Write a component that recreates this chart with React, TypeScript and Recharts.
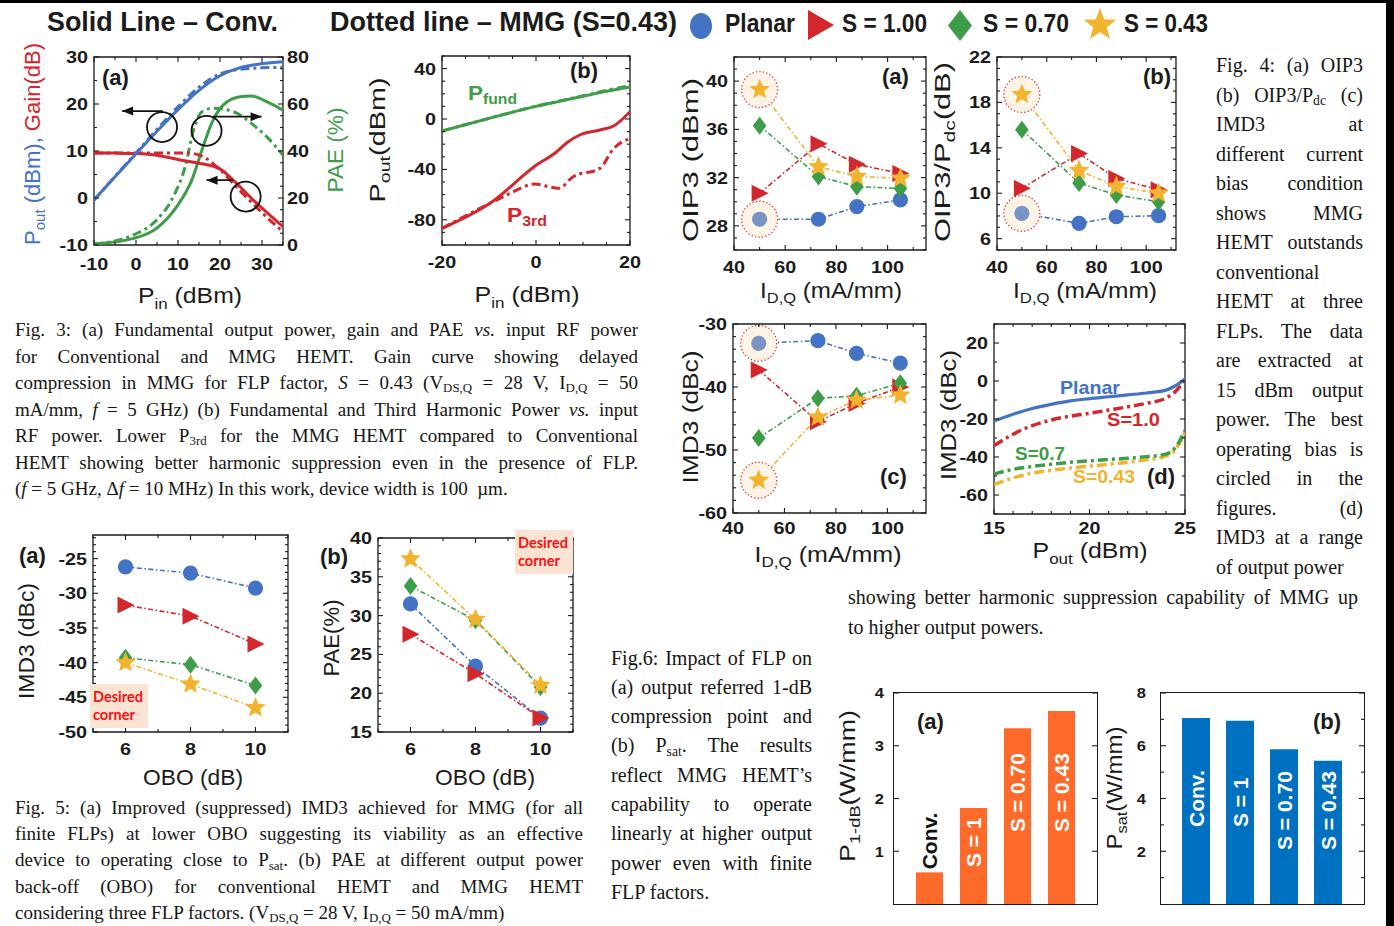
import React from 'react';
import { LineChart, Line, XAxis, YAxis, ReferenceArea, ReferenceDot, ReferenceLine, BarChart, Bar, LabelList } from 'recharts';

// ---------------- fonts / colours ----------------
const SANS = "'Liberation Sans', Arial, Helvetica, sans-serif";
const SERIF = "'Liberation Serif', 'Times New Roman', Times, serif";
const INK = '#1b1b1b';
const BLUE = '#4472C4';
const BLUE_HI = '#7893C4';
const RED = '#D3262D';
const GREEN = '#3F9C49';
const GOLD = '#F2B42F';
const ORANGE = '#FF6A2A';
const BARBLUE = '#0070C0';

// ---------------- data : Fig.3(a) ----------------
const f3aPoutConv = [{ x: -10, y: -0.4 }, { x: -5, y: 4.5 }, { x: 0, y: 9.4 }, { x: 5, y: 14.2 }, { x: 10, y: 18.8 }, { x: 15, y: 22.9 }, { x: 20, y: 26.0 }, { x: 25, y: 27.8 }, { x: 30, y: 28.6 }, { x: 35, y: 29.0 }];
const f3aPoutMMG = [{ x: -10, y: -0.4 }, { x: -5, y: 4.6 }, { x: 0, y: 9.6 }, { x: 5, y: 14.6 }, { x: 10, y: 19.4 }, { x: 15, y: 23.6 }, { x: 20, y: 26.4 }, { x: 25, y: 27.4 }, { x: 30, y: 27.7 }, { x: 35, y: 27.8 }];
const f3aGainConv = [{ x: -10, y: 9.6 }, { x: -5, y: 9.55 }, { x: 0, y: 9.45 }, { x: 5, y: 9.1 }, { x: 10, y: 8.2 }, { x: 15, y: 7.4 }, { x: 20, y: 6.2 }, { x: 23, y: 3.9 }, { x: 28, y: -0.5 }, { x: 35, y: -6.1 }];
const f3aGainMMG = [{ x: -10, y: 9.6 }, { x: 0, y: 9.6 }, { x: 5, y: 9.6 }, { x: 12, y: 9.6 }, { x: 16, y: 8.8 }, { x: 20, y: 6.0 }, { x: 24.6, y: 1.7 }, { x: 30.2, y: -3.3 }, { x: 35, y: -7.2 }];
const f3aPaeConv = [{ x: -10, y: 0.4 }, { x: -0.6, y: 2.8 }, { x: 4.9, y: 7.1 }, { x: 9.7, y: 16.3 }, { x: 13.3, y: 27.7 }, { x: 15.7, y: 40.4 }, { x: 18, y: 51.8 }, { x: 20.8, y: 59.6 }, { x: 24.8, y: 63.1 }, { x: 27.5, y: 63.4 }, { x: 31.1, y: 61 }, { x: 35, y: 57.4 }];
const f3aPaeMMG = [{ x: -10, y: 0.4 }, { x: -0.6, y: 4.3 }, { x: 4.9, y: 10.6 }, { x: 8.9, y: 20.6 }, { x: 11.7, y: 33.3 }, { x: 13.7, y: 48.9 }, { x: 15.7, y: 56.7 }, { x: 18.5, y: 58.2 }, { x: 23.2, y: 56.7 }, { x: 28, y: 51 }, { x: 31.1, y: 46.1 }, { x: 35, y: 38.3 }];
const f3aCircles = [[6.2, 15.1], [16.8, 14.3], [26.1, 0.3]];
const f3aArrows = [[6.4, -3.3, 18.5], [18.3, 29.9, 17.3], [23.1, 16.8, 3.8]];

// ---------------- data : Fig.3(b) ----------------
const f3bFundConv = [{ x: -20, y: -9.5 }, { x: -10, y: 0.5 }, { x: 0, y: 10 }, { x: 5, y: 14 }, { x: 10, y: 18 }, { x: 15, y: 22 }, { x: 20, y: 25.5 }];
const f3bFundMMG = [{ x: -20, y: -9.5 }, { x: -10, y: 0.5 }, { x: 0, y: 10.2 }, { x: 10, y: 18.4 }, { x: 15, y: 22.7 }, { x: 20, y: 26.5 }];
const f3b3rdConv = [{ x: -20, y: -86.8 }, { x: -9.8, y: -66.9 }, { x: 0.1, y: -36.5 }, { x: 4.4, y: -26 }, { x: 6.5, y: -19 }, { x: 9.4, y: -12.5 }, { x: 13.6, y: -8.7 }, { x: 16.5, y: -5.6 }, { x: 20, y: 5.8 }];
const f3b3rdMMG = [{ x: -20, y: -86.8 }, { x: -9.8, y: -66.9 }, { x: -5.5, y: -59 }, { x: -0.2, y: -51.6 }, { x: 2.5, y: -53.5 }, { x: 4.8, y: -55 }, { x: 7.9, y: -45.8 }, { x: 13.6, y: -39.2 }, { x: 16.4, y: -24 }, { x: 20, y: -15.3 }];

// ---------------- data : Fig.4 ----------------
const idq = [50, 73, 88, 105];
const oip3Planar = [28.55, 28.55, 29.6, 30.15];
const oip3S100 = [30.7, 34.8, 33.1, 32.35];
const oip3S070 = [36.3, 32.1, 31.25, 31.1];
const oip3S043 = [39.3, 32.9, 32.1, 31.95];
const ratioPlanar = [8.23, 7.35, 7.93, 8.02];
const ratioS100 = [10.43, 13.5, 11.3, 10.3];
const ratioS070 = [15.6, 10.9, 9.85, 9.25];
const ratioS043 = [18.7, 12.0, 10.6, 10.0];
const imdPlanar = [-33.06, -32.65, -34.65, -36.2];
const imdS100 = [-37.3, -45.5, -42.6, -40.0];
const imdS070 = [-48.1, -41.8, -41.4, -39.4];
const imdS043 = [-54.8, -44.8, -42.1, -41.3];
const f4dPout = [15, 16, 17, 18, 19, 20, 21, 22, 23, 24, 24.5, 25];
const f4dPlanar = [-21, -17.5, -14.5, -12.3, -10.5, -9.3, -8.3, -7.3, -6.3, -4.8, -2.5, 1];
const f4dS100 = [-34, -28, -23.5, -20.5, -18.5, -17, -15.3, -13.6, -11.7, -9, -5.5, 0.5];
const f4dS070 = [-49, -46.5, -45, -43.8, -42.8, -42, -41.3, -40.7, -39.8, -38.5, -35, -26];
const f4dS043 = [-54.5, -51, -48.5, -47, -45.8, -44.8, -43.8, -42.8, -41.5, -39.5, -36, -27];

// ---------------- data : Fig.5 ----------------
const obo = [6, 8, 10];
const imdOboPlanar = [-26.2, -27.1, -29.25];
const imdOboS100 = [-31.7, -33.3, -37.3];
const imdOboS070 = [-39.3, -40.3, -43.3];
const imdOboS043 = [-40.0, -43.1, -46.5];
const paePlanar = [31.5, 23.5, 16.8];
const paeS100 = [27.6, 22.5, 16.8];
const paeS070 = [33.8, 29.4, 20.8];
const paeS043 = [37.3, 29.5, 21.0];

// ---------------- data : Fig.6 ----------------
const fig6Cats = ['Conv.', 'S = 1', 'S = 0.70', 'S = 0.43'];
const p1dB = [0.6, 1.82, 3.33, 3.66];
const psat = [7.05, 6.95, 5.87, 5.43];

// ---------------- helpers ----------------
const rows = (xs: number[], a: number[], b: number[], c: number[], d: number[]) =>
  xs.map((x, i) => ({ x, planar: a[i], s100: b[i], s070: c[i], s043: d[i] }));
const rng = (a: number, b: number, s: number) => {
  const r: number[] = [];
  for (let v = a; v <= b + 1e-9; v += s) r.push(Math.round(v * 1000) / 1000);
  return r;
};

const PL = 50, PR = 36, PT = 10, PB = 36;

const F3A = { x0: 94, y0: 57, x1: 283, y1: 245 };
const F3B = { x0: 442, y0: 56, x1: 630, y1: 245 };
const F4A = { x0: 734, y0: 57, x1: 926, y1: 250 };
const F4B = { x0: 997, y0: 57, x1: 1176, y1: 250 };
const F4C = { x0: 733, y0: 324, x1: 926, y1: 513 };
const F4D = { x0: 994, y0: 324, x1: 1185, y1: 514 };
const F5A = { x0: 93, y0: 535, x1: 288, y1: 732 };
const F5B = { x0: 378, y0: 538, x1: 573, y1: 732 };
const F6A = { x0: 894, y0: 693, x1: 1097, y1: 904 };
const F6B = { x0: 1161, y0: 693, x1: 1364, y1: 904 };

function mkTick(c: any) {
  const fs = c.fs ?? 16.5, sx = c.sx ?? 1.2, len = c.len ?? 5, mlen = c.mlen ?? 3, off = c.off ?? 6, mirror = c.mirror ?? 0;
  return (p: any) => {
    const x = Number(p.x), y = Number(p.y);
    const v = Number(p.payload && p.payload.value);
    const major = c.majors.some((m: number) => Math.abs(m - v) < 1e-6);
    const L = major ? len : mlen;
    const ln = { stroke: INK, strokeWidth: 1.1 };
    const label = major ? String(v) : null;
    const tp = { fontFamily: SANS, fontWeight: 'bold', fontSize: fs, fill: INK } as any;
    if (c.side === 'left') {
      return (
        <g>
          <line x1={x} y1={y} x2={x + L} y2={y} {...ln} />
          {mirror ? <line x1={x + mirror - L} y1={y} x2={x + mirror} y2={y} {...ln} /> : null}
          {label != null ? <text transform={`translate(${x - off},${y + fs * 0.36}) scale(${sx},1)`} textAnchor="end" {...tp}>{label}</text> : null}
        </g>
      );
    }
    if (c.side === 'right') {
      return (
        <g>
          <line x1={x - L} y1={y} x2={x} y2={y} {...ln} />
          {label != null ? <text transform={`translate(${x + off},${y + fs * 0.36}) scale(${sx},1)`} textAnchor="start" {...tp}>{label}</text> : null}
        </g>
      );
    }
    return (
      <g>
        <line x1={x} y1={y - L} x2={x} y2={y} {...ln} />
        {mirror ? <line x1={x} y1={y - mirror} x2={x} y2={y - mirror + L} {...ln} /> : null}
        {label != null ? <text transform={`translate(${x},${y + off}) scale(${sx},1)`} textAnchor="middle" {...tp}>{label}</text> : null}
      </g>
    );
  };
}

function starPath(cx: number, cy: number, R: number, ratio = 0.45) {
  let d = '';
  for (let i = 0; i < 10; i++) {
    const a = (-90 + i * 36) * Math.PI / 180;
    const r = i % 2 === 0 ? R : R * ratio;
    d += (i === 0 ? 'M' : 'L') + (cx + r * Math.cos(a)).toFixed(2) + ',' + (cy + r * Math.sin(a)).toFixed(2);
  }
  return d + 'Z';
}

function Marker({ kind, cx, cy, color, s = 1 }: any) {
  if (cx == null || cy == null || isNaN(cx) || isNaN(cy)) return <g />;
  if (kind === 'circle') return <circle cx={cx} cy={cy} r={7.6 * s} fill={color} />;
  if (kind === 'tri') return <path d={`M${cx - 8 * s},${cy - 8.5 * s}L${cx + 9 * s},${cy}L${cx - 8 * s},${cy + 8.5 * s}Z`} fill={color} />;
  if (kind === 'diamond') return <path d={`M${cx},${cy - 9 * s}L${cx + 6.8 * s},${cy}L${cx},${cy + 9 * s}L${cx - 6.8 * s},${cy}Z`} fill={color} />;
  return <path d={starPath(cx, cy, 10.8 * s)} fill={color} />;
}

const SERIES = [
  { key: 'planar', kind: 'circle', color: BLUE },
  { key: 's100', kind: 'tri', color: RED },
  { key: 's070', kind: 'diamond', color: GREEN },
  { key: 's043', kind: 'star', color: GOLD },
];

const pos = (f: any) => ({ position: 'absolute' as const, left: f.x0 - PL, top: f.y0 - PT });

// ---------------- Fig 3(a) ----------------
function Fig3a() {
  const f = F3A; const pw = f.x1 - f.x0, ph = f.y1 - f.y0;
  const conv = { type: 'monotone' as const, dot: false, strokeWidth: 3, isAnimationActive: false, dataKey: 'y' };
  const mmg = { ...conv, strokeDasharray: '9 4 3 4' };
  return (
    <div style={pos(f)}>
      <LineChart width={pw + PL + PR} height={ph + PT + PB} margin={{ top: PT, right: 0, bottom: 0, left: 0 }}>
        <XAxis type="number" dataKey="x" domain={[-10, 35]} ticks={rng(-10, 35, 5)} interval={0} allowDataOverflow tickSize={0} tickMargin={0} axisLine={false} tickLine={false} height={PB} tick={mkTick({ side: 'bottom', majors: [-10, 0, 10, 20, 30], mirror: ph, off: 25 })} />
        <YAxis yAxisId="L" type="number" domain={[-10, 30]} ticks={rng(-10, 30, 5)} interval={0} allowDataOverflow tickSize={0} tickMargin={0} axisLine={false} tickLine={false} width={PL} tick={mkTick({ side: 'left', majors: [-10, 0, 10, 20, 30] })} />
        <YAxis yAxisId="R" orientation="right" type="number" domain={[0, 80]} ticks={rng(0, 80, 5)} interval={0} allowDataOverflow tickSize={0} tickMargin={0} axisLine={false} tickLine={false} width={PR} tick={mkTick({ side: 'right', majors: [0, 20, 40, 60, 80], off: 4 })} />
        <ReferenceArea yAxisId="L" x1={-10} x2={35} y1={-10} y2={30} fill="none" stroke={INK} strokeWidth={1.3} ifOverflow="visible" />
        <Line yAxisId="R" data={f3aPaeConv} stroke={GREEN} {...conv} />
        <Line yAxisId="R" data={f3aPaeMMG} stroke={GREEN} {...mmg} />
        <Line yAxisId="L" data={f3aGainConv} stroke={RED} {...conv} />
        <Line yAxisId="L" data={f3aGainMMG} stroke={RED} {...mmg} />
        <Line yAxisId="L" data={f3aPoutConv} stroke={BLUE} {...conv} />
        <Line yAxisId="L" data={f3aPoutMMG} stroke={BLUE} {...mmg} />
        {f3aCircles.map((c, i) => (
          <ReferenceDot key={'c' + i} yAxisId="L" x={c[0]} y={c[1]} r={15} fill="none" stroke="#111" strokeWidth={1.8} ifOverflow="visible" />
        ))}
        {f3aArrows.map((a, i) => (
          <ReferenceLine key={'a' + i} yAxisId="L" segment={[{ x: a[0], y: a[2] }, { x: a[1], y: a[2] }]} stroke="#111" strokeWidth={1.8} ifOverflow="visible" />
        ))}
        {f3aArrows.map((a, i) => (
          <ReferenceDot key={'h' + i} yAxisId="L" x={a[1]} y={a[2]} r={5} ifOverflow="visible"
            shape={(p: any) => {
              const dir = a[1] > a[0] ? 1 : -1;
              const cx = Number(p.cx), cy = Number(p.cy);
              return <path d={`M${cx},${cy}L${cx - dir * 11},${cy - 4.5}L${cx - dir * 11},${cy + 4.5}Z`} fill="#111" />;
            }} />
        ))}
      </LineChart>
    </div>
  );
}

// ---------------- Fig 3(b) ----------------
function Fig3b() {
  const f = F3B; const pw = f.x1 - f.x0, ph = f.y1 - f.y0;
  const conv = { type: 'monotone' as const, dot: false, strokeWidth: 3, isAnimationActive: false, dataKey: 'y' };
  const mmg = { ...conv, strokeDasharray: '9 4 3 4' };
  return (
    <div style={pos(f)}>
      <LineChart width={pw + PL + PR} height={ph + PT + PB} margin={{ top: PT, right: PR, bottom: 0, left: 0 }}>
        <XAxis type="number" dataKey="x" domain={[-20, 20]} ticks={rng(-20, 20, 5)} interval={0} allowDataOverflow tickSize={0} tickMargin={0} axisLine={false} tickLine={false} height={PB} tick={mkTick({ side: 'bottom', majors: [-20, 0, 20], mirror: ph, off: 23 })} />
        <YAxis type="number" domain={[-100, 50]} ticks={rng(-100, 50, 10)} interval={0} allowDataOverflow tickSize={0} tickMargin={0} axisLine={false} tickLine={false} width={PL} tick={mkTick({ side: 'left', majors: [-80, -40, 0, 40], mirror: pw })} />
        <ReferenceArea x1={-20} x2={20} y1={-100} y2={50} fill="none" stroke={INK} strokeWidth={1.3} ifOverflow="visible" />
        <Line data={f3b3rdMMG} stroke={RED} {...mmg} />
        <Line data={f3b3rdConv} stroke={RED} {...conv} />
        <Line data={f3bFundConv} stroke={GREEN} {...conv} />
        <Line data={f3bFundMMG} stroke={GREEN} {...mmg} />
      </LineChart>
    </div>
  );
}

// ---------------- scatter-line panels (Fig 4 a-c, Fig 5) ----------------
function ScatterPanel({ f, xd, xt, xm, yd, yt, ym, data, xoff, hi }: any) {
  const pw = f.x1 - f.x0, ph = f.y1 - f.y0;
  return (
    <div style={pos(f)}>
      <LineChart width={pw + PL + PR} height={ph + PT + PB} margin={{ top: PT, right: PR, bottom: 0, left: 0 }} data={data}>
        <XAxis type="number" dataKey="x" domain={xd} ticks={xt} interval={0} allowDataOverflow tickSize={0} tickMargin={0} axisLine={false} tickLine={false} height={PB} tick={mkTick({ side: 'bottom', majors: xm, mirror: ph, off: xoff })} />
        <YAxis type="number" domain={yd} ticks={yt} interval={0} allowDataOverflow tickSize={0} tickMargin={0} axisLine={false} tickLine={false} width={PL} tick={mkTick({ side: 'left', majors: ym, mirror: pw })} />
        <ReferenceArea x1={xd[0]} x2={xd[1]} y1={yd[0]} y2={yd[1]} fill="none" stroke={INK} strokeWidth={1.3} ifOverflow="visible" />
        {hi.map((h: number[], i: number) => (
          <ReferenceDot key={'hi' + i} x={h[0]} y={h[1]} r={18} fill="#FDF3E6" stroke="#E8322F" strokeWidth={1.3} strokeDasharray="1.3 2.2" ifOverflow="visible" />
        ))}
        {SERIES.map((s) => (
          <Line key={s.key} dataKey={s.key} type="linear" stroke={s.color} strokeWidth={1.6} strokeDasharray="5 2.5 1.5 2.5" isAnimationActive={false} activeDot={false}
            dot={(p: any) => <Marker key={`${s.key}-${p.index}`} kind={s.kind} cx={p.cx} cy={p.cy} color={s.key === 'planar' && hi.length && p.index === 0 ? BLUE_HI : s.color} />} />
        ))}
      </LineChart>
    </div>
  );
}

// ---------------- Fig 4(d) ----------------
function Fig4d() {
  const f = F4D; const pw = f.x1 - f.x0, ph = f.y1 - f.y0;
  const data = rows(f4dPout, f4dPlanar, f4dS100, f4dS070, f4dS043);
  const dash = '10 4 3 4';
  return (
    <div style={pos(f)}>
      <LineChart width={pw + PL + PR} height={ph + PT + PB} margin={{ top: PT, right: PR, bottom: 0, left: 0 }} data={data}>
        <XAxis type="number" dataKey="x" domain={[15, 25]} ticks={rng(15, 25, 1)} interval={0} allowDataOverflow tickSize={0} tickMargin={0} axisLine={false} tickLine={false} height={PB} tick={mkTick({ side: 'bottom', majors: [15, 20, 25], mirror: ph, off: 20 })} />
        <YAxis type="number" domain={[-70, 30]} ticks={rng(-70, 30, 10)} interval={0} allowDataOverflow tickSize={0} tickMargin={0} axisLine={false} tickLine={false} width={PL} tick={mkTick({ side: 'left', majors: [-60, -40, -20, 0, 20], mirror: pw })} />
        <ReferenceArea x1={15} x2={25} y1={-70} y2={30} fill="none" stroke={INK} strokeWidth={1.3} ifOverflow="visible" />
        <Line dataKey="s043" type="monotone" stroke={GOLD} strokeWidth={3.5} strokeDasharray={dash} dot={false} isAnimationActive={false} />
        <Line dataKey="s070" type="monotone" stroke={GREEN} strokeWidth={3.5} strokeDasharray={dash} dot={false} isAnimationActive={false} />
        <Line dataKey="s100" type="monotone" stroke={RED} strokeWidth={3.5} strokeDasharray={dash} dot={false} isAnimationActive={false} />
        <Line dataKey="planar" type="monotone" stroke={BLUE} strokeWidth={3.2} dot={false} isAnimationActive={false} />
      </LineChart>
    </div>
  );
}

// ---------------- bar panels (Fig 6) ----------------
const BAR_LABEL_FROM_BOTTOM_A = [0, 37, 72, 72];
const BAR_LABEL_FROM_BOTTOM_B = [77, 77, 54, 54];

function BarPanel({ f, values, color, yd, yt, ym, starts, labelColors, firstOutside, barSize, tickOff }: any) {
  const pw = f.x1 - f.x0, ph = f.y1 - f.y0;
  const data = fig6Cats.map((name, i) => ({ name, v: values[i] }));
  const content = (p: any) => {
    const i = fig6Cats.indexOf(String(p.value));
    const x = Number(p.x), y = Number(p.y), w = Number(p.width), h = Number(p.height);
    const fs = 21;
    const bx = x + w / 2 + fs * 0.36;
    const sy = firstOutside && i === 0 ? y - 3 : y + h - starts[i];
    return (
      <text key={'lb' + i} transform={`translate(${bx},${sy}) rotate(-90)`} fontFamily={SANS} fontWeight="bold" fontSize={fs} fill={labelColors[i]}>{p.value}</text>
    );
  };
  return (
    <>
      <div style={pos(f)}>
        <BarChart width={pw + PL + PR} height={ph + PT + PB} margin={{ top: PT, right: PR, bottom: 0, left: 0 }} data={data}>
          <XAxis dataKey="name" type="category" padding={{ left: 13, right: 14 }} tick={false} tickLine={false} axisLine={false} height={PB} />
          <YAxis type="number" domain={yd} ticks={yt} interval={0} allowDataOverflow tickSize={0} tickMargin={0} axisLine={false} tickLine={false} width={PL} tick={mkTick({ side: 'left', majors: ym, mirror: pw, fs: 15, sx: 1.1, off: tickOff, len: 5 })} />
          <Bar dataKey="v" fill={color} barSize={barSize} isAnimationActive={false}>
            <LabelList dataKey="name" content={content} />
          </Bar>
        </BarChart>
      </div>
      <div style={{ position: 'absolute', left: f.x0 - 0.6, top: f.y0 - 0.6, width: pw + 1.2, height: ph + 1.2, boxSizing: 'border-box', border: `1.3px solid ${INK}`, pointerEvents: 'none' }} />
    </>
  );
}

// ---------------- text helpers ----------------
function T({ x, y, fs = 22, fill = INK, w = 'normal', anchor = 'start', len, rot = false, children }: any) {
  const tr = rot ? `translate(${x},${y}) rotate(-90)` : `translate(${x},${y})`;
  return (
    <text transform={tr} fontSize={fs} fill={fill} fontWeight={w} fontFamily={SANS} textAnchor={anchor}
      textLength={len} lengthAdjust={len ? 'spacingAndGlyphs' : undefined}>{children}</text>
  );
}
const subS: any = { fontSize: '0.68em', position: 'relative', top: '0.26em', lineHeight: 0 };
const Sub = ({ children }: any) => <span style={subS}>{children}</span>;

function Caption({ left, top, width, lh, fs, lines, leftAligned }: any) {
  return (
    <div style={{ position: 'absolute', left, top, width, fontFamily: SERIF, fontSize: fs, lineHeight: lh + 'px', color: '#151515' }}>
      {lines.map((ln: any, i: number) => {
        const la = leftAligned.includes(i);
        return (
          <div key={i} style={{ height: lh, whiteSpace: 'nowrap', textAlign: la ? 'left' : 'justify', textAlignLast: la ? 'left' : 'justify' } as any}>{ln}</div>
        );
      })}
    </div>
  );
}

const cap3 = [
  <>Fig. 3: (a) Fundamental output power, gain and PAE <i>vs.</i> input RF power</>,
  <>for Conventional and MMG HEMT. Gain curve showing delayed</>,
  <>compression in MMG for FLP factor, <i>S</i> = 0.43 (V<Sub>DS,Q</Sub> = 28 V, I<Sub>D,Q</Sub> = 50</>,
  <>mA/mm, <i>f</i> = 5 GHz) (b) Fundamental and Third Harmonic Power <i>vs.</i> input</>,
  <>RF power. Lower P<Sub>3rd</Sub> for the MMG HEMT compared to Conventional</>,
  <>HEMT showing better harmonic suppression even in the presence of FLP.</>,
  <>(<i>f</i> = 5 GHz, Δ<i>f</i> = 10 MHz) In this work, device width is 100 &nbsp;µm.</>,
];
const cap5 = [
  <>Fig. 5: (a) Improved (suppressed) IMD3 achieved for MMG (for all</>,
  <>finite FLPs) at lower OBO suggesting its viability as an effective</>,
  <>device to operating close to P<Sub>sat</Sub>. (b) PAE at different output power</>,
  <>back-off (OBO) for conventional HEMT and MMG HEMT</>,
  <>considering three FLP factors. (V<Sub>DS,Q</Sub> = 28 V, I<Sub>D,Q</Sub> = 50 mA/mm)</>,
];
const cap6 = [
  <>Fig.6: Impact of FLP on</>,
  <>(a) output referred 1-dB</>,
  <>compression point and</>,
  <>(b) P<Sub>sat</Sub>. The results</>,
  <>reflect MMG HEMT’s</>,
  <>capability to operate</>,
  <>linearly at higher output</>,
  <>power even with finite</>,
  <>FLP factors.</>,
];
const cap4 = [
  <>Fig. 4: (a) OIP3</>,
  <>(b) OIP3/P<Sub>dc</Sub> (c)</>,
  <>IMD3 at</>,
  <>different current</>,
  <>bias condition</>,
  <>shows MMG</>,
  <>HEMT outstands</>,
  <>conventional</>,
  <>HEMT at three</>,
  <>FLPs. The data</>,
  <>are extracted at</>,
  <>15 dBm output</>,
  <>power. The best</>,
  <>operating bias is</>,
  <>circled in the</>,
  <>figures. (d)</>,
  <>IMD3 at a range</>,
  <>of output power</>,
];
const cap4b = [
  <>showing better harmonic suppression capability of MMG up</>,
  <>to higher output powers.</>,
];

function DesiredBox({ left, top }: any) {
  return (
    <div style={{ position: 'absolute', left, top, width: 58, height: 44, background: '#FBE3D3', color: '#FF1010', fontFamily: "Lato, 'Open Sans', sans-serif", fontWeight: 'bold', fontSize: 14.5, lineHeight: '18px', paddingTop: 4, paddingLeft: 3, boxSizing: 'border-box' }}>
      <div>Desired</div>
      <div>corner</div>
    </div>
  );
}

export default function App() {
  const hiA = [[idq[0], oip3S043[0]], [idq[0], oip3Planar[0]]];
  const hiB = [[idq[0], ratioS043[0]], [idq[0], ratioPlanar[0]]];
  const hiC = [[idq[0], imdPlanar[0]], [idq[0], imdS043[0]]];
  const sub = (t: string, d = 6, fs = 15) => [<tspan key="s" fontSize={fs} dy={d}>{t}</tspan>];
  return (
    <div style={{ position: 'absolute', left: 0, top: 0, width: 1394, height: 926, background: '#fff', overflow: 'hidden' }}>
      <Fig3a />
      <Fig3b />
      <ScatterPanel f={F4A} xd={[40, 115]} xt={rng(40, 110, 10)} xm={[40, 60, 80, 100]} yd={[26, 42]} yt={rng(26, 42, 1)} ym={[28, 32, 36, 40]} data={rows(idq, oip3Planar, oip3S100, oip3S070, oip3S043)} xoff={23} hi={hiA} />
      <ScatterPanel f={F4B} xd={[40, 112]} xt={rng(40, 110, 10)} xm={[40, 60, 80, 100]} yd={[5, 22]} yt={rng(5, 22, 1)} ym={[6, 10, 14, 18, 22]} data={rows(idq, ratioPlanar, ratioS100, ratioS070, ratioS043)} xoff={23} hi={hiB} />
      <ScatterPanel f={F4C} xd={[40, 115]} xt={rng(40, 110, 10)} xm={[40, 60, 80, 100]} yd={[-60, -30]} yt={rng(-60, -30, 2)} ym={[-60, -50, -40, -30]} data={rows(idq, imdPlanar, imdS100, imdS070, imdS043)} xoff={21} hi={hiC} />
      <Fig4d />
      <ScatterPanel f={F5A} xd={[5, 11]} xt={rng(5, 11, 1)} xm={[6, 8, 10]} yd={[-50, -21.6]} yt={rng(-50, -22, 1)} ym={[-50, -45, -40, -35, -30, -25]} data={rows(obo, imdOboPlanar, imdOboS100, imdOboS070, imdOboS043)} xoff={23} hi={[]} />
      <ScatterPanel f={F5B} xd={[5, 11]} xt={rng(5, 11, 1)} xm={[6, 8, 10]} yd={[15, 40]} yt={rng(15, 40, 1)} ym={[15, 20, 25, 30, 35, 40]} data={rows(obo, paePlanar, paeS100, paeS070, paeS043)} xoff={23} hi={[]} />
      <BarPanel f={F6A} values={p1dB} color={ORANGE} yd={[0, 4]} yt={[1, 2, 3, 4]} ym={[1, 2, 3, 4]} starts={BAR_LABEL_FROM_BOTTOM_A} labelColors={['#111', '#fff', '#fff', '#fff']} firstOutside barSize={27} tickOff={10} />
      <BarPanel f={F6B} values={psat} color={BARBLUE} yd={[0, 8]} yt={rng(1, 8, 1)} ym={[2, 4, 6, 8]} starts={BAR_LABEL_FROM_BOTTOM_B} labelColors={['#fff', '#fff', '#fff', '#fff']} firstOutside={false} barSize={28} tickOff={15} />

      <DesiredBox left={90} top={684} />
      <DesiredBox left={515} top={530} />

      <Caption left={15} top={317} width={623} lh={26.5} fs={19} lines={cap3} leftAligned={[6]} />
      <Caption left={15} top={794.5} width={568} lh={26.4} fs={19} lines={cap5} leftAligned={[4]} />
      <Caption left={611} top={643.5} width={201} lh={29.3} fs={20} lines={cap6} leftAligned={[8]} />
      <Caption left={1216} top={51.3} width={147} lh={29.5} fs={20} lines={cap4} leftAligned={[7, 17]} />
      <Caption left={848} top={582} width={510} lh={30} fs={20} lines={cap4b} leftAligned={[1]} />

      <svg width={1394} height={926} style={{ position: 'absolute', left: 0, top: 0, pointerEvents: 'none' }}>
        {/* header */}
        <T x={47} y={31} fs={27} w="bold" len={231}>Solid Line – Conv.</T>
        <T x={330} y={31} fs={27} w="bold" len={347}>Dotted line – MMG (S=0.43)</T>
        <ellipse cx={701} cy={26} rx={11} ry={13} fill={BLUE} />
        <T x={725} y={32} fs={25} w="bold" len={70}>Planar</T>
        <path d="M808,10L834,25L808,40Z" fill={RED} />
        <T x={842} y={32} fs={25} w="bold" len={85}>S = 1.00</T>
        <path d="M960,10L972,25.5L960,41L948,25.5Z" fill={GREEN} />
        <T x={983} y={32} fs={25} w="bold" len={86}>S = 0.70</T>
        <path d={starPath(1100, 25, 17, 0.42)} fill={GOLD} />
        <T x={1124} y={32} fs={25} w="bold" len={84}>S = 0.43</T>

        {/* Fig 3 labels */}
        <T x={102} y={85} fs={22} w="bold">(a)</T>
        <T x={40} y={144} rot anchor="middle" len={202}>
          <tspan fill={BLUE}>P</tspan><tspan fill={BLUE} fontSize={15} dy={5}>out</tspan><tspan fill={BLUE} dy={-5}> (dBm), </tspan><tspan fill={RED}>Gain(dB)</tspan>
        </T>
        <T x={343} y={150} rot anchor="middle" len={85} fill={GREEN}>PAE (%)</T>
        <T x={190} y={303} anchor="middle" len={104}>P{sub('in')}<tspan dy={-6}> (dBm)</tspan></T>
        <T x={570} y={78} fs={22} w="bold">(b)</T>
        <T x={468} y={100} fs={20} w="bold" fill={GREEN} len={49}>P<tspan fontSize={14} dy={4}>fund</tspan></T>
        <T x={507} y={222} fs={20} w="bold" fill={RED} len={40}>P<tspan fontSize={14} dy={4}>3rd</tspan></T>
        <T x={385} y={140} rot anchor="middle" len={125}>P{sub('out', 5)}<tspan dy={-5}>(dBm)</tspan></T>
        <T x={527} y={302} anchor="middle" len={105}>P{sub('in')}<tspan dy={-6}> (dBm)</tspan></T>

        {/* Fig 4 labels */}
        <T x={882} y={84} fs={22} w="bold">(a)</T>
        <T x={1143} y={84} fs={22} w="bold">(b)</T>
        <T x={880} y={484} fs={22} w="bold">(c)</T>
        <T x={1147} y={484} fs={22} w="bold">(d)</T>
        <T x={698} y={160} rot anchor="middle" len={164}>OIP3 (dBm)</T>
        <T x={831} y={298} anchor="middle" len={142}>I{sub('D,Q', 5)}<tspan dy={-5}> (mA/mm)</tspan></T>
        <T x={950} y={152} rot anchor="middle" len={180}>OIP3/P{sub('dc', 5)}<tspan dy={-5}>(dB)</tspan></T>
        <T x={1085} y={298} anchor="middle" len={144}>I{sub('D,Q', 5)}<tspan dy={-5}> (mA/mm)</tspan></T>
        <T x={698} y={417} rot anchor="middle" len={133}>IMD3 (dBc)</T>
        <T x={828} y={562} anchor="middle" len={147}>I{sub('D,Q', 5)}<tspan dy={-5}> (mA/mm)</tspan></T>
        <T x={956} y={415} rot anchor="middle" len={130}>IMD3 (dBc)</T>
        <T x={1090} y={558} anchor="middle" len={115}>P{sub('out')}<tspan dy={-6}> (dBm)</tspan></T>
        <T x={1060} y={394} fs={19} w="bold" fill={BLUE} len={60}>Planar</T>
        <T x={1107} y={426} fs={19} w="bold" fill={RED} len={53}>S=1.0</T>
        <T x={1015} y={460} fs={19} w="bold" fill={GREEN} len={50}>S=0.7</T>
        <T x={1073} y={483} fs={19} w="bold" fill={GOLD} len={62}>S=0.43</T>

        {/* Fig 5 labels */}
        <T x={19} y={563} fs={22} w="bold">(a)</T>
        <T x={320} y={564} fs={22} w="bold">(b)</T>
        <T x={34} y={641} rot anchor="middle" len={116}>IMD3 (dBc)</T>
        <T x={193} y={785} anchor="middle" len={100}>OBO (dB)</T>
        <T x={339} y={638} rot anchor="middle" len={77}>PAE(%)</T>
        <T x={485} y={785} anchor="middle" len={100}>OBO (dB)</T>

        {/* Fig 6 labels */}
        <T x={917} y={729} fs={22} w="bold">(a)</T>
        <T x={1313} y={729} fs={22} w="bold">(b)</T>
        <T x={855} y={786} rot anchor="middle" len={152}>P{sub('1-dB', 5)}<tspan dy={-5}>(W/mm)</tspan></T>
        <T x={1122} y={788} rot anchor="middle" len={123}>P{sub('sat', 5)}<tspan dy={-5}>(W/mm)</tspan></T>
      </svg>

      <div style={{ position: 'absolute', left: 0, top: 0, width: 1394, height: 3, background: '#000' }} />
      <div style={{ position: 'absolute', left: 1386, top: 0, width: 8, height: 926, background: '#000' }} />
    </div>
  );
}
